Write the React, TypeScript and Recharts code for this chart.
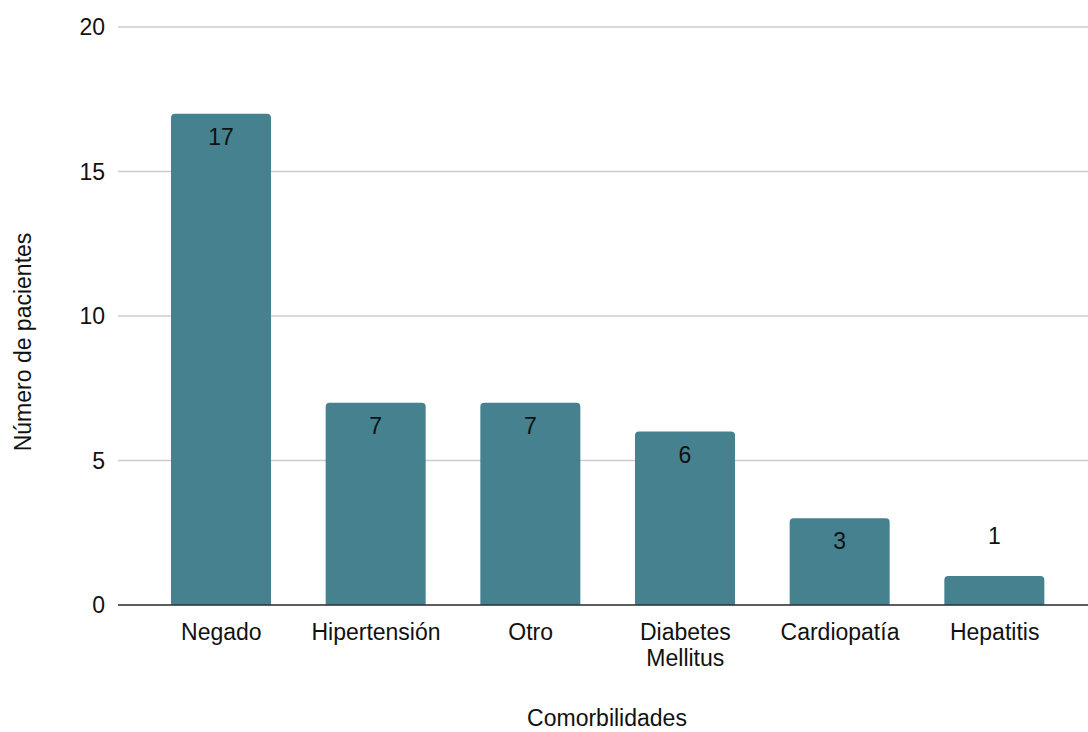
import React from 'react';
import { BarChart, Bar, XAxis, YAxis, CartesianGrid, LabelList } from 'recharts';

const categories = ['Negado', 'Hipertensión', 'Otro', 'Diabetes Mellitus', 'Cardiopatía', 'Hepatitis'];
const patients = [17, 7, 7, 6, 3, 1];
const yTicks = [0, 5, 10, 15, 20];

const data = categories.map((name, i) => ({ name, value: patients[i] }));

const FONT = '"Liberation Sans", Arial, Helvetica, sans-serif';
const TEXT = '#111111';
const FS = 23;

const XTick = (props: any) => {
  const { x, y, payload } = props;
  const label: string = payload.value;
  const lines = label.length > 12 ? label.split(' ') : [label];
  return (
    <text x={x} y={y} textAnchor="middle" fill={TEXT} fontSize={FS} fontFamily={FONT}>
      {lines.map((l, i) => (
        <tspan key={i} x={x} dy={i === 0 ? 35 : 26}>{l}</tspan>
      ))}
    </text>
  );
};

const BarLabel = (props: any) => {
  const { x, y, width, height, value } = props;
  const inside = height > 40;
  return (
    <text
      x={x + width / 2}
      y={inside ? y + 31 : y - 32}
      textAnchor="middle"
      fill={TEXT}
      fontSize={FS}
      fontFamily={FONT}
    >
      {value}
    </text>
  );
};

const YTitle = (props: any) => {
  const { viewBox } = props;
  const cx = viewBox.x + 23;
  const cy = viewBox.y + viewBox.height / 2 + 26;
  return (
    <text
      x={cx}
      y={cy}
      transform={`rotate(-90 ${cx} ${cy})`}
      textAnchor="middle"
      dominantBaseline="central"
      fill={TEXT}
      fontSize={FS}
      fontFamily={FONT}
    >
      Número de pacientes
    </text>
  );
};

const XTitle = (props: any) => {
  const { viewBox } = props;
  const cx = viewBox.x + viewBox.width / 2 + 4;
  const cy = viewBox.y + 121;
  return (
    <text x={cx} y={cy} textAnchor="middle" fill={TEXT} fontSize={FS} fontFamily={FONT}>
      Comorbilidades
    </text>
  );
};

export default function App() {
  return (
    <div style={{ position: 'absolute', left: 0, top: 0, width: 1088, height: 732, background: '#fff' }}>
      <BarChart
        width={1088}
        height={732}
        data={data}
        margin={{ top: 27, right: 0, bottom: 0, left: 0 }}
        barCategoryGap={0}
      >
        <CartesianGrid vertical={false} stroke="#cccccc" strokeWidth={1.5} />
        <XAxis
          dataKey="name"
          height={127}
          padding={{ left: 26, right: 16 }}
          axisLine={{ stroke: '#333333', strokeWidth: 1.5 }}
          tickLine={false}
          tickSize={0}
          tickMargin={0}
          interval={0}
          tick={<XTick />}
          label={<XTitle />}
        />
        <YAxis
          width={118}
          domain={[0, 20]}
          ticks={yTicks}
          axisLine={false}
          tickLine={false}
          tickSize={6}
          tickMargin={7}
          tick={{ fill: TEXT, fontSize: FS, fontFamily: FONT }}
          label={<YTitle />}
        />
        <Bar dataKey="value" fill="#45818e" barSize={100} radius={[4, 4, 0, 0]} isAnimationActive={false}>
          <LabelList dataKey="value" content={<BarLabel />} />
        </Bar>
      </BarChart>
    </div>
  );
}
